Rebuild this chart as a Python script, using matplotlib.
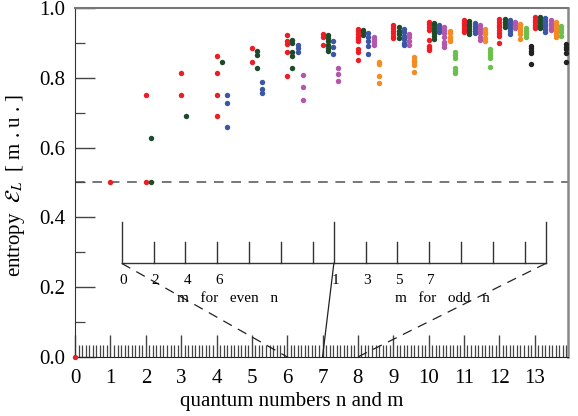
import numpy as np
import matplotlib
matplotlib.use("Agg")
import matplotlib.pyplot as plt
from matplotlib.ticker import MultipleLocator

plt.rcParams.update({
    "font.family": ["Liberation Serif", "DejaVu Serif"],
    "mathtext.fontset": "stix",
    "lines.scale_dashes": False,
})

# entropy values per quantum number n; one inner list per m (m = n%2, n%2+2, ...)
N0 = [[0.0]]
N1 = [[0.502]]
N2 = [[0.751, 0.502], [0.627, 0.502]]
N3 = [[0.813, 0.751], [0.689]]
N4 = [[0.861, 0.813, 0.751, 0.689], [0.845], [0.751, 0.728, 0.658]]
N5 = [[0.884, 0.844], [0.877, 0.864, 0.829], [0.787, 0.767, 0.755]]
N6 = [[0.923, 0.905, 0.897, 0.875, 0.806], [0.908, 0.899, 0.875, 0.862, 0.829],
      [0.894, 0.884, 0.875], [0.808, 0.774, 0.735]]
N7 = [[0.925, 0.918, 0.894], [0.922, 0.913, 0.904, 0.895, 0.884, 0.876],
      [0.905, 0.887, 0.868], [0.829, 0.811, 0.792]]
N8 = [[0.940, 0.933, 0.926, 0.918, 0.911, 0.904, 0.882, 0.875, 0.851],
      [0.937, 0.930, 0.923], [0.929, 0.918, 0.904, 0.890, 0.868],
      [0.918, 0.910, 0.902, 0.894], [0.846, 0.839, 0.805, 0.784]]
N9 = [[0.950, 0.943, 0.935, 0.927, 0.920, 0.913], [0.944, 0.935, 0.925, 0.915],
      [0.939, 0.930, 0.920, 0.910, 0.900, 0.894], [0.926, 0.918, 0.904, 0.895],
      [0.860, 0.852, 0.844, 0.837, 0.815]]
N10 = [[0.961, 0.953, 0.945, 0.937, 0.908, 0.891, 0.884, 0.878],
       [0.958, 0.950, 0.942, 0.934, 0.927, 0.920, 0.910],
       [0.951, 0.944, 0.937, 0.932],
       [0.946, 0.937, 0.928, 0.918, 0.903, 0.896, 0.889],
       [0.935, 0.927, 0.918, 0.911, 0.904],
       [0.875, 0.866, 0.856, 0.827, 0.820, 0.813]]
N11 = [[0.964, 0.957, 0.950, 0.943, 0.937, 0.932],
       [0.963, 0.955, 0.947, 0.940, 0.933, 0.926],
       [0.956, 0.949, 0.942, 0.934, 0.927],
       [0.951, 0.943, 0.935, 0.927, 0.918, 0.908],
       [0.939, 0.932, 0.926, 0.913, 0.904],
       [0.882, 0.873, 0.864, 0.856, 0.832]]
N12 = [[0.968, 0.960, 0.952, 0.944, 0.936, 0.928, 0.920, 0.899],
       [0.967, 0.960, 0.953, 0.946],
       [0.964, 0.957, 0.950, 0.942, 0.934, 0.926],
       [0.961, 0.954, 0.947, 0.941],
       [0.954, 0.947, 0.940, 0.933, 0.926, 0.910],
       [0.941, 0.933, 0.926, 0.916],
       [0.891, 0.884, 0.877, 0.870, 0.840]]
N13 = [[0.973, 0.966, 0.959, 0.952, 0.945, 0.941],
       [0.973, 0.966, 0.959, 0.952, 0.945, 0.941],
       [0.970, 0.962, 0.955, 0.948, 0.940, 0.932],
       [0.964, 0.957, 0.950, 0.943, 0.937],
       [0.961, 0.954, 0.947, 0.940, 0.933, 0.926, 0.916],
       [0.948, 0.940, 0.932, 0.920],
       [0.898, 0.889, 0.881, 0.872, 0.846]]
ENTROPY = [N0, N1, N2, N3, N4, N5, N6, N7, N8, N9, N10, N11, N12, N13]

# colour per m index (m//2)
COLORS = ["#EE1D25", "#1D4B2A", "#3A56A5", "#B457AA", "#F58B23", "#6BBF4C", "#222222"]
STEP = 0.15          # x shift between neighbouring m values

EVEN_LABELS = ["0", "2", "4", "6"]
ODD_LABELS = ["1", "3", "5", "7"]

# magnified view of n in [6, 8]
ZOOM_N0 = 6
ZOOM_X0 = 1.32
ZOOM_MAG = 6.0
ZOOM_Y = 0.268
TALL_Y = 0.386
SHORT_Y = 0.328

def zx(x):
    return ZOOM_X0 + ZOOM_MAG * (x - ZOOM_N0)

fig = plt.figure(figsize=(5.78, 4.16), dpi=100)
ax = fig.add_axes([0.130, 0.142, 0.853, 0.839])

for n, groups in enumerate(ENTROPY):
    for k, vals in enumerate(groups):
        xs = np.full(len(vals), n + STEP * k)
        ax.plot(xs, vals, "o", ms=3.9, mec="none", color=COLORS[k],
                clip_on=False, zorder=3)

ax.axhline(0.5, color="#777777", lw=1.4, ls=(0, (7, 5.5)), zorder=1)

# inset m-axis
ax.plot([zx(6), zx(8)], [ZOOM_Y, ZOOM_Y], color="#333333", lw=1.0)
for x in (6, 7, 8):
    ax.plot([zx(x)] * 2, [ZOOM_Y, TALL_Y], color="#333333", lw=1.0)
for base in (6, 7):
    for k in range(1, 7):
        ax.plot([zx(base + STEP * k)] * 2, [ZOOM_Y, SHORT_Y], color="#333333", lw=1.0)
for k, lab in enumerate(EVEN_LABELS):
    ax.text(zx(6 + STEP * k) + 0.05, 0.218, lab, ha="center", va="center", fontsize=11)
for k, lab in enumerate(ODD_LABELS):
    ax.text(zx(7 + STEP * k) + 0.05, 0.218, lab, ha="center", va="center", fontsize=11)
ax.text(4.30, 0.168, "m   for   even   n", ha="center", va="center", fontsize=11)
ax.text(10.39, 0.168, "m   for   odd   n", ha="center", va="center", fontsize=11)

# lines joining the inset to the n axis
ax.plot([zx(6), 6], [ZOOM_Y, 0], color="#222222", lw=0.9, ls=(0, (7, 5)))
ax.plot([zx(7), 7], [ZOOM_Y, 0], color="#222222", lw=0.9)
ax.plot([zx(8), 8], [ZOOM_Y, 0], color="#222222", lw=0.9, ls=(0, (7, 5)))

ax.set_xlim(0, 13.95)
ax.set_ylim(0, 1.0)
ax.xaxis.set_major_locator(MultipleLocator(1))
ax.xaxis.set_minor_locator(MultipleLocator(0.1))
ax.yaxis.set_major_locator(MultipleLocator(0.2))
ax.yaxis.set_minor_locator(MultipleLocator(0.1))
ax.yaxis.set_major_formatter(matplotlib.ticker.FormatStrFormatter("%.1f"))
ax.tick_params(axis="x", which="major", direction="in", length=16, width=1.0,
               color="#444444", labelsize=15, pad=9)
ax.tick_params(axis="x", which="minor", direction="in", length=8.5, width=0.9,
               color="#444444")
ax.tick_params(axis="y", which="major", direction="in", length=14.5, width=1.0,
               color="#444444", labelsize=15, pad=7)
ax.tick_params(axis="y", which="minor", direction="in", length=7.5, width=0.9,
               color="#444444")

ax.spines["left"].set_color("#333333")
ax.spines["bottom"].set_color("#222222")
ax.spines["top"].set_color("#777777")
ax.spines["top"].set_linewidth(1.5)
ax.spines["right"].set_color("#888888")
ax.spines["right"].set_linewidth(1.8)

ax.set_xlabel("quantum numbers n and m", fontsize=15)
ax.xaxis.set_label_coords(0.44, -0.10)
ax.set_ylabel(r"entropy  $\mathcal{E}_L$  [ m . u . ]", fontsize=15)
ax.yaxis.set_label_coords(-0.097, 0.49)

fig.savefig("out.png", dpi=100, facecolor="white")
